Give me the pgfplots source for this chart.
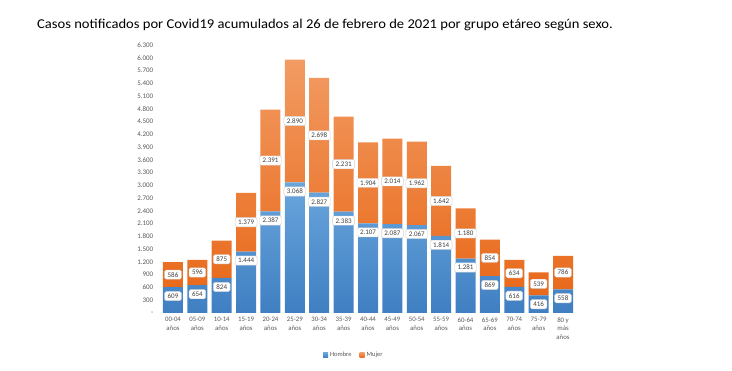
\documentclass[border=0pt]{standalone}
\usepackage{pgfplots}
\pgfplotsset{compat=1.18}
\usepackage{pgfplotstable}
\usepackage{fontspec}
\setmainfont{Carlito}
\newfontfamily\titlefont[FakeStretch=1.08]{Carlito}
\definecolor{bluetop}{HTML}{6AA6DD}
\definecolor{bluebot}{HTML}{3F7FC2}
\definecolor{orgtop}{HTML}{F29B63}
\definecolor{orgbot}{HTML}{E8691A}
\definecolor{tickgray}{HTML}{595959}
\definecolor{labgray}{HTML}{404040}

\pgfplotstableread{
x h m
0 609 586
1 654 596
2 824 875
3 1444 1379
4 2387 2391
5 3068 2890
6 2827 2698
7 2383 2231
8 2107 1904
9 2087 2014
10 2067 1962
11 1814 1642
12 1281 1180
13 869 854
14 616 634
15 416 539
16 558 786
}\datatable

\pgfplotsset{
  common/.style={
    at={(160.8pt,58pt)}, anchor=south west,
    scale only axis, width=414.4pt, height=268pt,
    xmin=-0.5, xmax=16.5, ymin=0, ymax=6300,
  },
  lbl/.style={
    draw=none, mark=none, nodes near coords, point meta=explicit,
    nodes near coords align={center},
    /pgf/number format/fixed, /pgf/number format/precision=0,
    /pgf/number format/1000 sep={.},
    /pgf/number format/assume math mode=true,
    every node near coord/.append style={
      font=\fontsize{7}{8}\selectfont, text=labgray,
      fill=white, draw=black!18, rounded corners=1.5pt,
      inner xsep=3pt, inner ysep=2.2pt, text height=4.8pt, text depth=0pt,
    },
  }
}

\begin{document}
\begin{tikzpicture}
\path (0pt,0pt) rectangle (732pt,371pt);
\node[anchor=base west, font=\titlefont\fontsize{13.5}{15}\selectfont, inner sep=0pt, text=black] at (37pt,342pt)
  {Casos notificados por Covid19 acumulados al 26 de febrero de 2021 por grupo etáreo según sexo.};

\begin{axis}[common,
  ybar stacked, bar width=20pt,
  axis line style={draw=none}, major tick length=0pt,
  xtick={0,...,16},
  xticklabels={{00-04\\años},{05-09\\años},{10-14\\años},{15-19\\años},{20-24\\años},{25-29\\años},{30-34\\años},{35-39\\años},{40-44\\años},{45-49\\años},{50-54\\años},{55-59\\años},{60-64\\años},{65-69\\años},{70-74\\años},{75-79\\años},{80 y\\más\\años}},
  xticklabel style={align=center, font=\fontsize{6.8}{8.5}\selectfont, text=tickgray, yshift=-1pt},
  ytick={0,300,...,6300},
  yticklabels={-,300,600,900,1.200,1.500,1.800,2.100,2.400,2.700,3.000,3.300,3.600,3.900,4.200,4.500,4.800,5.100,5.400,5.700,6.000,6.300},
  yticklabel style={font=\fontsize{7}{8}\selectfont, text=tickgray, xshift=-4pt},
  legend style={at={(axis description cs:0.466,-0.157)}, anchor=center, draw=none,
    legend columns=2, font=\fontsize{6.5}{8}\selectfont, text=tickgray,
    /tikz/every even column/.append style={column sep=6pt},
    inner sep=0pt},
  legend image code/.code={\path[#1] (0pt,-2.5pt) rectangle (5pt,2.5pt);},
]
\addplot[draw=none, top color=bluetop, bottom color=bluebot] table[x=x, y=h] {\datatable};
\addplot[draw=none, top color=orgtop, bottom color=orgbot] table[x=x, y=m] {\datatable};
\legend{Hombre, Mujer}
\end{axis}

\begin{axis}[common, hide axis]
\addplot[lbl, every node near coord/.append style={yshift=-9pt}] table[x=x, y=h, meta=h] {\datatable};
\addplot[lbl] table[x=x, y expr=\thisrow{h}+0.5*\thisrow{m}, meta=m] {\datatable};
\end{axis}
\end{tikzpicture}
\end{document}
